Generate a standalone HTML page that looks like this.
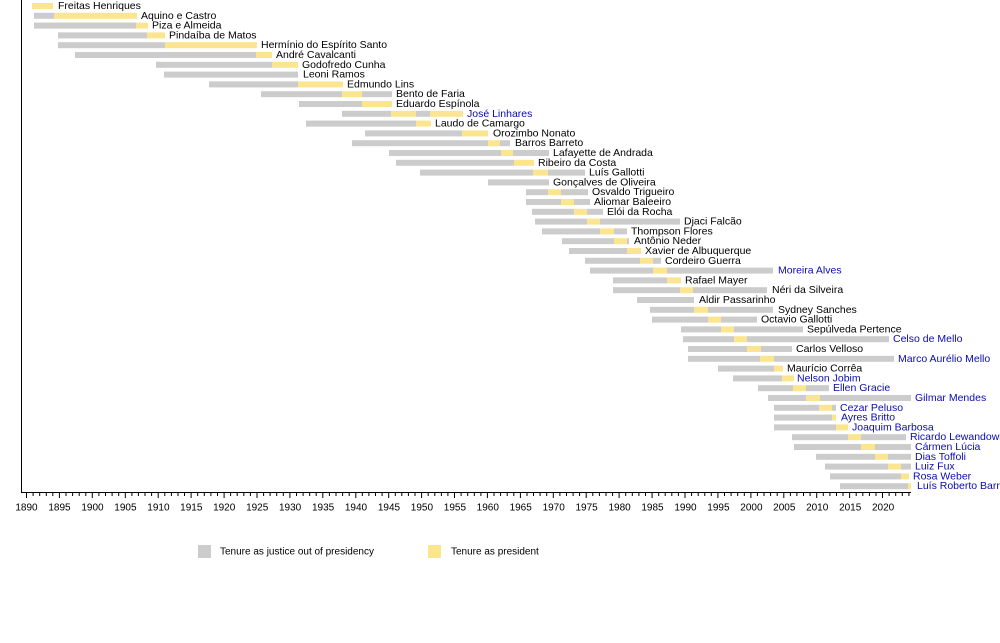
<!DOCTYPE html>
<html><head><meta charset="utf-8"><style>
html,body{margin:0;padding:0;background:#fff}
svg{display:block;font-family:"Liberation Sans",sans-serif;font-size:10.5px}
.g{fill:#cccccc}.y{fill:#fbe58f}
text{fill:#000;dominant-baseline:central}
.b{fill:#0a0ab0}
</style></head><body>
<svg id="s" width="1000" height="643" viewBox="0 0 1000 643" xmlns="http://www.w3.org/2000/svg">
<line x1="21.5" y1="0" x2="21.5" y2="493" stroke="#000" stroke-width="1"/>
<line x1="21" y1="492.5" x2="911" y2="492.5" stroke="#000" stroke-width="1"/>
<g id="ticks" stroke="#000" stroke-width="1"></g>
<g id="bars"></g>
<g text-anchor="middle" font-size="10">
<text x="26.5" y="508">1890</text><text x="59.5" y="508">1895</text><text x="92.5" y="508">1900</text><text x="125.4" y="508">1905</text><text x="158.4" y="508">1910</text><text x="191.3" y="508">1915</text><text x="224.2" y="508">1920</text><text x="257.2" y="508">1925</text><text x="290.1" y="508">1930</text><text x="323.1" y="508">1935</text><text x="356" y="508">1940</text><text x="389" y="508">1945</text><text x="421.9" y="508">1950</text><text x="454.9" y="508">1955</text><text x="487.8" y="508">1960</text><text x="520.7" y="508">1965</text><text x="553.7" y="508">1970</text><text x="586.6" y="508">1975</text><text x="619.6" y="508">1980</text><text x="652.5" y="508">1985</text><text x="685.5" y="508">1990</text><text x="718.4" y="508">1995</text><text x="751.4" y="508">2000</text><text x="784.3" y="508">2005</text><text x="817.2" y="508">2010</text><text x="850.2" y="508">2015</text><text x="883.1" y="508">2020</text>
</g>
<g>
<text x="58" y="6">Freitas Henriques</text>
<text x="141" y="15.8">Aquino e Castro</text>
<text x="152" y="25.6">Piza e Almeida</text>
<text x="169" y="35.4">Pindaíba de Matos</text>
<text x="261" y="45.2">Hermínio do Espírito Santo</text>
<text x="276" y="55">André Cavalcanti</text>
<text x="302" y="64.8">Godofredo Cunha</text>
<text x="303" y="74.6">Leoni Ramos</text>
<text x="347" y="84.4">Edmundo Lins</text>
<text x="396" y="94.2">Bento de Faria</text>
<text x="396" y="104">Eduardo Espínola</text>
<text class="b" x="467" y="113.8">José Linhares</text>
<text x="435" y="123.6">Laudo de Camargo</text>
<text x="493" y="133.4">Orozimbo Nonato</text>
<text x="515" y="143.2">Barros Barreto</text>
<text x="553" y="153">Lafayette de Andrada</text>
<text x="538" y="162.8">Ribeiro da Costa</text>
<text x="589" y="172.6">Luís Gallotti</text>
<text x="553" y="182.4">Gonçalves de Oliveira</text>
<text x="592" y="192.2">Osvaldo Trigueiro</text>
<text x="594" y="202">Aliomar Baleeiro</text>
<text x="607" y="211.8">Elói da Rocha</text>
<text x="684" y="221.6">Djaci Falcão</text>
<text x="631" y="231.4">Thompson Flores</text>
<text x="634" y="241.2">Antônio Neder</text>
<text x="645" y="251">Xavier de Albuquerque</text>
<text x="665" y="260.8">Cordeiro Guerra</text>
<text class="b" x="778" y="270.6">Moreira Alves</text>
<text x="685" y="280.4">Rafael Mayer</text>
<text x="772" y="290.2">Néri da Silveira</text>
<text x="699" y="300">Aldir Passarinho</text>
<text x="778" y="309.8">Sydney Sanches</text>
<text x="761" y="319.6">Octavio Gallotti</text>
<text x="807" y="329.4">Sepúlveda Pertence</text>
<text class="b" x="893" y="339.2">Celso de Mello</text>
<text x="796" y="349">Carlos Velloso</text>
<text class="b" x="898" y="358.8">Marco Aurélio Mello</text>
<text x="787" y="368.6">Maurício Corrêa</text>
<text class="b" x="797" y="378.4">Nelson Jobim</text>
<text class="b" x="833" y="388.2">Ellen Gracie</text>
<text class="b" x="915" y="398">Gilmar Mendes</text>
<text class="b" x="840" y="407.8">Cezar Peluso</text>
<text class="b" x="841" y="417.6">Ayres Britto</text>
<text class="b" x="852" y="427.4">Joaquim Barbosa</text>
<text class="b" x="910" y="437.2">Ricardo Lewandowski</text>
<text class="b" x="915" y="447">Cármen Lúcia</text>
<text class="b" x="915" y="456.8">Dias Toffoli</text>
<text class="b" x="915" y="466.6">Luiz Fux</text>
<text class="b" x="913" y="476.4">Rosa Weber</text>
<text class="b" x="917" y="486.2">Luís Roberto Barroso</text>
</g>
<rect x="198" y="545" width="13" height="13" class="g"/>
<text x="220" y="552" font-size="10">Tenure as justice out of presidency</text>
<rect x="428" y="545" width="13" height="13" class="y"/>
<text x="451" y="552" font-size="10">Tenure as president</text>
</svg>
<script>
var rows=[
[["y",32,53]],
[["g",34,54],["y",54,137]],
[["g",34,136],["y",136,148]],
[["g",58,147],["y",147,165]],
[["g",58,165],["y",165,257]],
[["g",75,256],["y",256,272]],
[["g",156,272],["y",272,298]],
[["g",164,298]],
[["g",209,298],["y",298,343]],
[["g",261,342],["y",342,362],["g",362,392]],
[["g",299,362],["y",362,392]],
[["g",342,391],["y",391,416],["g",416,430],["y",430,463]],
[["g",306,416],["y",416,431]],
[["g",365,462],["y",462,488]],
[["g",352,488],["y",488,500],["g",500,510]],
[["g",389,501],["y",501,513],["g",513,549]],
[["g",396,514],["y",514,534]],
[["g",420,533],["y",533,548],["g",548,585]],
[["g",488,549]],
[["g",526,548],["y",548,561],["g",561,588]],
[["g",526,561],["y",561,574],["g",574,590]],
[["g",532,574],["y",574,587],["g",587,603]],
[["g",535,587],["y",587,600],["g",600,680]],
[["g",542,600],["y",600,614],["g",614,627]],
[["g",562,614],["y",614,627],["g",627,629]],
[["g",569,627],["y",627,641]],
[["g",585,640],["y",640,653],["g",653,661]],
[["g",590,653],["y",653,667],["g",667,773]],
[["g",613,667],["y",667,681]],
[["g",613,680],["y",680,693],["g",693,767]],
[["g",637,694]],
[["g",650,694],["y",694,708],["g",708,773]],
[["g",652,708],["y",708,721],["g",721,757]],
[["g",681,721],["y",721,734],["g",734,803]],
[["g",683,734],["y",734,747],["g",747,889]],
[["g",688,747],["y",747,761],["g",761,792]],
[["g",688,760],["y",760,774],["g",774,894]],
[["g",718,774],["y",774,783]],
[["g",733,782],["y",782,794]],
[["g",758,793],["y",793,806],["g",806,829]],
[["g",768,806],["y",806,820],["g",820,911]],
[["g",774,819],["y",819,832],["g",832,836]],
[["g",774,832],["y",832,836]],
[["g",774,836],["y",836,848]],
[["g",792,848],["y",848,861],["g",861,906]],
[["g",794,861],["y",861,875],["g",875,911]],
[["g",816,875],["y",875,888],["g",888,911]],
[["g",825,888],["y",888,901],["g",901,911]],
[["g",830,901],["y",901,909]],
[["g",840,908],["y",908,911]]];
var ns="http://www.w3.org/2000/svg",B=document.getElementById("bars");
rows.forEach(function(r,i){var cy=6+9.8*i;r.forEach(function(s){var e=document.createElementNS(ns,"rect");e.setAttribute("x",s[1]);e.setAttribute("width",s[2]-s[1]);e.setAttribute("y",cy-3);e.setAttribute("height",6);e.setAttribute("class",s[0]);B.appendChild(e);});});
var T=document.getElementById("ticks"),d="";
for(var yr=1890;yr<=2024;yr++){var x=26.5+(yr-1890)*6.585;var L=(yr%5==0)?5:3;d+="M"+x.toFixed(1)+" 493V"+(493+L);}
var p=document.createElementNS(ns,"path");p.setAttribute("d",d);T.appendChild(p);
</script>
</body></html>
